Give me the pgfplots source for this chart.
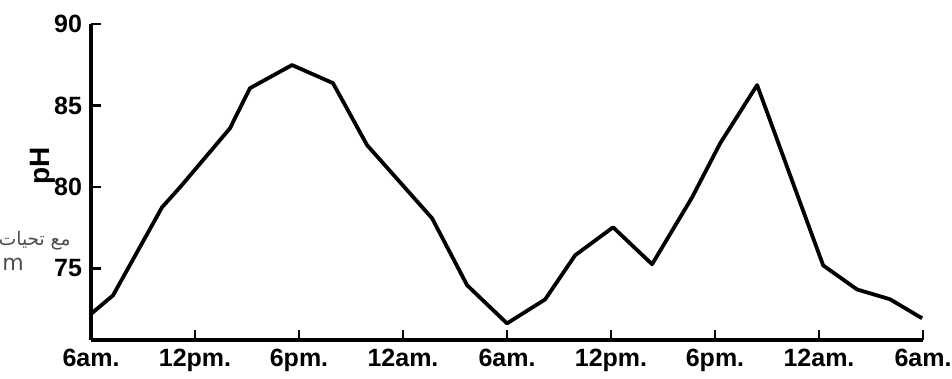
\documentclass[border=0pt]{standalone}
\usepackage{pgfplots}
\pgfplotsset{compat=1.18}
\usepackage{fontspec}
\setmainfont{Liberation Sans}
\newfontfamily\arabicfont[Script=Arabic]{DejaVu Sans}
\newfontfamily\dejavu{DejaVu Sans}
\TeXXeTstate=1
\begin{document}
\begin{tikzpicture}
\useasboundingbox (-45.5pt,-19.5pt) rectangle (430.5pt,170pt);
\begin{axis}[
  at={(0,0)}, anchor=south west,
  scale only axis, width=416pt, height=158pt,
  xmin=0, xmax=48, ymin=70.6, ymax=90,
  axis x line*=bottom, axis y line*=left,
  axis line style={line width=1.8pt, -},
  xtick={0,6,...,48},
  xticklabels={6am.,12pm.,6pm.,12am.,6am.,12pm.,6pm.,12am.,6am.},
  ytick={75,80,85,90},
  yticklabels={75,80,85,90},
  tick align=inside,
  major tick length=5pt,
  tick style={line width=1.3pt, black},
  /pgf/number format/assume math mode=true,
  tick label style={font=\bfseries\fontsize{12.5}{12.5}\selectfont},
  xticklabel style={yshift=-1pt},
  yticklabel style={xshift=-1pt},
  ylabel={pH},
  ylabel style={font=\bfseries\fontsize{14}{14}\selectfont, at={(axis description cs:-0.058,0.55)}, anchor=center},
  clip=false,
]
\addplot[black, line width=1.9pt, line join=round] coordinates {
(0,72.2) (1.27,73.34) (4.10,78.75) (5.14,79.98) (8.02,83.6) (9.17,86.06)
(11.6,87.48) (13.96,86.37) (15.93,82.56) (19.68,78.07) (21.70,73.96)
(24.0,71.62) (26.2,73.09) (27.93,75.8) (30.12,77.52) (32.37,75.25)
(34.68,79.36) (36.3,82.68) (38.43,86.25) (42.24,75.18) (44.2,73.7)
(46.1,73.1) (47.95,71.93)
};
\end{axis}
\node[anchor=base east, text=black!70, font=\arabicfont\fontsize{9.3}{9.3}\selectfont, inner sep=0pt] at (-10pt,47pt) {\beginR مع تحيات\endR};
\node[anchor=base west, text=black!70, font=\dejavu\fontsize{11}{11}\selectfont, inner sep=0pt] at (-44.5pt,34.5pt) {m};
\end{tikzpicture}
\end{document}
